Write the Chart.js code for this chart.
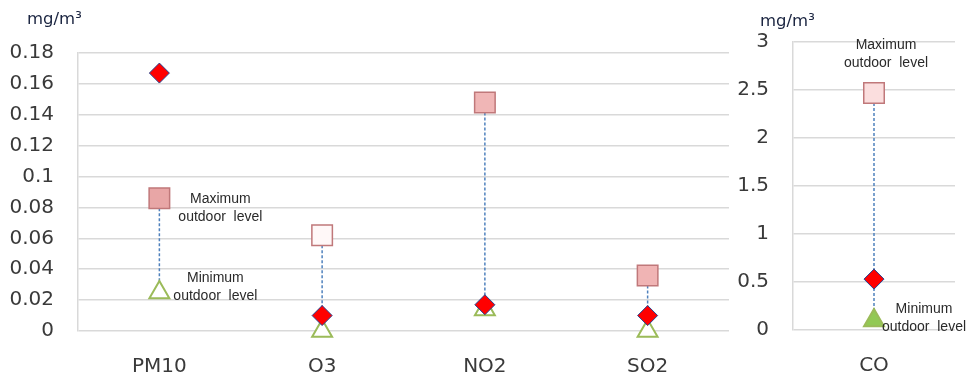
<!DOCTYPE html>
<html>
<head>
<meta charset="utf-8">
<script src="https://cdn.jsdelivr.net/npm/chart.js@4"></script>
<style>
  body { margin: 0; background: #fff; }
  #wrap { position: relative; width: 971px; height: 378px; overflow: hidden; background: #fff; }
  #left { position: absolute; left: 0; top: 0; }
  #right { position: absolute; left: 720px; top: 0; }
  .unit { position: absolute; font-family: "DejaVu Sans", sans-serif; font-size: 16.5px; color: #1a2440; }
</style>
</head>
<body>
<div id="wrap">
  <canvas id="left" width="745" height="378"></canvas>
  <canvas id="right" width="251" height="378"></canvas>
  <div class="unit" style="left:27px; top:9px;">mg/m³</div>
  <div class="unit" style="left:760px; top:11px;">mg/m³</div>
</div>
<script>
// left chart (mg/m3)
const leftLabels = ['PM10', 'O3', 'NO2', 'SO2'];
const leftIndoor = [0.167, 0.010, 0.017, 0.010];
const leftMaxOutdoor = [0.086, 0.062, 0.148, 0.036];
const leftMinOutdoor = [0.025, 0.000, 0.014, 0.000];
const leftMin = 0, leftMax = 0.18, leftStep = 0.02;

// right chart (CO)
const rightLabels = ['CO'];
const rightIndoor = [0.53];
const rightMaxOutdoor = [2.47];
const rightMinOutdoor = [0.10];
const rightMin = 0, rightMax = 3, rightStep = 0.5;

const tickFont = { family: 'DejaVu Sans', size: 20 };

// dashed connector between max and min outdoor level
const connector = {
  id: 'connector',
  beforeDatasetsDraw(chart, args, opts) {
    const ctx = chart.ctx, x = chart.scales.x, y = chart.scales.y;
    ctx.save();
    ctx.strokeStyle = '#4f81bd';
    ctx.lineWidth = 1.5;
    ctx.setLineDash([3, 2]);
    opts.hi.forEach((v, i) => {
      const px = x.getPixelForValue(i);
      ctx.beginPath();
      ctx.moveTo(px, y.getPixelForValue(v));
      ctx.lineTo(px, y.getPixelForValue(opts.lo[i]));
      ctx.stroke();
    });
    ctx.restore();
  }
};

// small text notes next to a point
const notes = {
  id: 'notes',
  afterDatasetsDraw(chart, args, opts) {
    const ctx = chart.ctx;
    ctx.save();
    ctx.font = '14px "Liberation Sans", Arial, sans-serif';
    ctx.fillStyle = '#2a2a2a';
    ctx.textAlign = 'center';
    ctx.textBaseline = 'middle';
    (opts.items || []).forEach(n => {
      const el = chart.getDatasetMeta(n.ds).data[n.i];
      n.lines.forEach((t, k) => ctx.fillText(t, el.x + n.dx, el.y + n.dy + k * 18));
    });
    ctx.restore();
  }
};

function scales(min, max, step, yWidth, xHeight) {
  return {
    x: {
      offset: true,
      grid: { display: false },
      border: { display: false },
      ticks: { font: tickFont, color: '#3a3a3a', padding: 16 },
      afterFit: s => { s.height = xHeight; }
    },
    y: {
      min: min, max: max,
      grid: { color: '#d9d9d9', lineWidth: 1.5, drawTicks: false },
      border: { display: true, color: '#d9d9d9', width: 1.5 },
      ticks: { font: tickFont, color: '#3a3a3a', stepSize: step, padding: 24,
               callback: v => String(+v.toFixed(2)) },
      afterFit: s => { s.width = yWidth; }
    }
  };
}

function sets(indoor, hi, lo, squareFill, triFill) {
  return [
    { data: indoor, pointStyle: 'rectRot', pointRadius: 10, pointBackgroundColor: '#ff0000',
      pointBorderColor: '#24408e', pointBorderWidth: 1, showLine: false, clip: false },
    { data: hi, pointStyle: 'rect', pointRadius: 14.5, pointBackgroundColor: squareFill,
      pointBorderColor: '#c0787a', pointBorderWidth: 1.5, showLine: false, clip: false },
    { data: lo, pointStyle: 'triangle', pointRadius: 11.5, pointBackgroundColor: triFill,
      pointBorderColor: '#9bbb59', pointBorderWidth: 2, showLine: false, clip: false }
  ];
}

new Chart('left', {
  type: 'line',
  data: {
    labels: leftLabels,
    datasets: sets(leftIndoor, leftMaxOutdoor, leftMinOutdoor,
      ['#e8a6a6', '#fff8f8', '#f0b6b6', '#f0b4b4'], '#ffffff')
  },
  options: {
    responsive: false, animation: false,
    layout: { padding: { top: 53, right: 11, left: 0, bottom: 0 } },
    scales: scales(leftMin, leftMax, leftStep, 78, 47),
    plugins: {
      legend: { display: false }, tooltip: { enabled: false },
      connector: { hi: leftMaxOutdoor, lo: leftMinOutdoor },
      notes: { items: [
        { ds: 1, i: 0, dx: 61, dy: 1, lines: ['Maximum', 'outdoor  level'] },
        { ds: 2, i: 0, dx: 56, dy: -14, lines: ['Minimum', 'outdoor  level'] }
      ] }
    }
  },
  plugins: [connector, notes]
});

new Chart('right', {
  type: 'line',
  data: {
    labels: rightLabels,
    datasets: sets(rightIndoor, rightMaxOutdoor, rightMinOutdoor, ['#fbdede'], '#92c954')
  },
  options: {
    responsive: false, animation: false,
    layout: { padding: { top: 42, right: 14, left: 0, bottom: 0 } },
    scales: scales(rightMin, rightMax, rightStep, 73, 48),
    plugins: {
      legend: { display: false }, tooltip: { enabled: false },
      connector: { hi: rightMaxOutdoor, lo: rightMinOutdoor },
      notes: { items: [
        { ds: 1, i: 0, dx: 12, dy: -48, lines: ['Maximum', 'outdoor  level'] },
        { ds: 2, i: 0, dx: 50, dy: -11, lines: ['Minimum', 'outdoor  level'] }
      ] }
    }
  },
  plugins: [connector, notes]
});
</script>
</body>
</html>
